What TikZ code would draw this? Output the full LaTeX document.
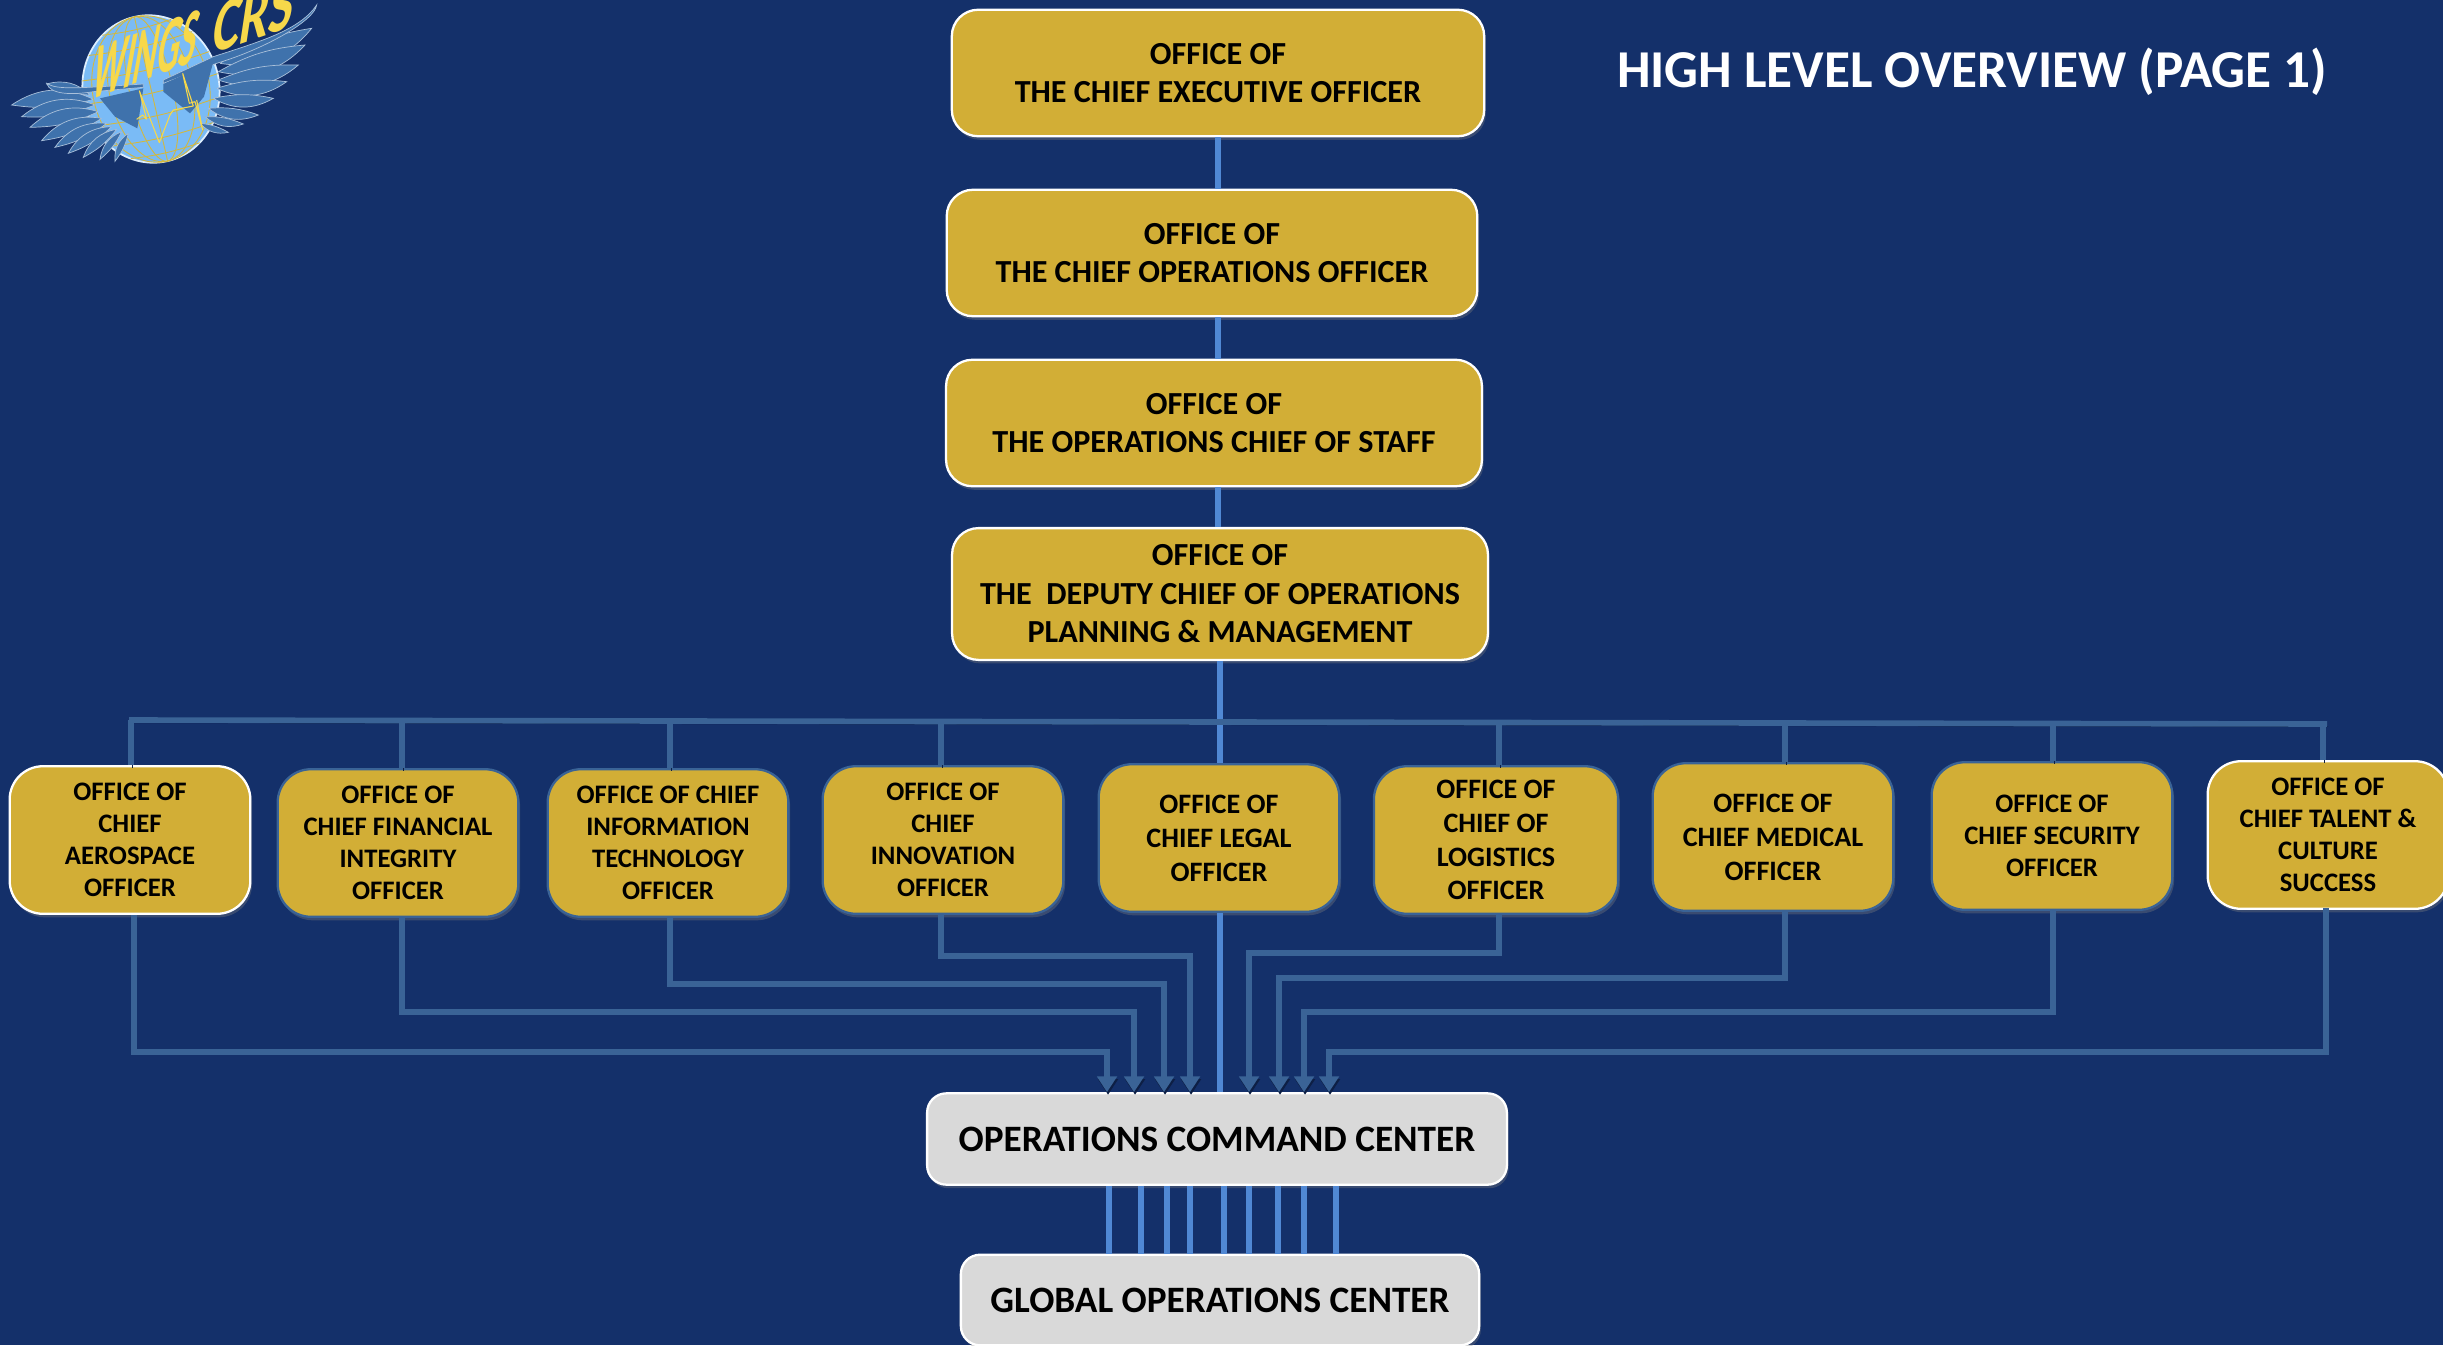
\documentclass[tikz,border=0pt]{standalone}
\usepackage{fontspec}
\setmainfont{Carlito}
\usepackage{tikz}
\usetikzlibrary{arrows.meta, shadows}

\definecolor{navy}{HTML}{14306A}
\definecolor{gold}{HTML}{D2AE36}
\definecolor{pale}{HTML}{D9D9D9}
\definecolor{trunk}{HTML}{5088D4}
\definecolor{branch}{HTML}{3A6396}
\definecolor{wing}{HTML}{3F72AC}
\definecolor{globe}{HTML}{7ABBF6}
\definecolor{logoyellow}{HTML}{F7D84A}

\newcommand{\quill}[2]{\draw[feather] (#1) to[bend left=12] (#2) to[bend left=30] (#1);}

\tikzset{
  office/.style={rounded corners=15pt,fill=gold,draw=white,line width=1.3pt,align=center,inner sep=0pt,
    font=\fontsize{18.3pt}{21.9pt}\selectfont\bfseries,text=black,
    drop shadow={shadow xshift=1pt,shadow yshift=-2pt,opacity=.35}},
  chief/.style={office,font=\fontsize{15.2pt}{18.3pt}\selectfont\bfseries,rounded corners=19pt,
    minimum width=137pt,minimum height=84pt},
  chiefbig/.style={chief,font=\fontsize{16pt}{19.3pt}\selectfont\bfseries},
  blueedge/.style={draw=branch},
  hub/.style={office,rounded corners=11pt,fill=pale,font=\fontsize{21.2pt}{25pt}\selectfont\bfseries},
  trunkline/.style={trunk,line width=3.2pt},
  busline/.style={branch,line width=3.2pt,preaction={draw=navy!65!black,transform canvas={shift={(.6pt,-1.5pt)}}}},
  feedline/.style={busline,-{Triangle[length=9pt,width=11pt]}},
  feather/.style={fill=wing,draw=white!55!wing,line width=.4pt},
  grid/.style={logoyellow!85!black,line width=.5pt}
}

\begin{document}
\begin{tikzpicture}[x=0.02cm,y=-0.02cm]
\useasboundingbox (0,0) rectangle (2443,1345);
\fill[navy] (0,0) rectangle (2443,1345);

% Upper offices
\node[office,minimum width=303pt,minimum height=72pt] (ceo) at (1218,73)
  {OFFICE OF\\THE CHIEF EXECUTIVE OFFICER};
\node[office,minimum width=302pt,minimum height=72pt] (coo) at (1212,253)
  {OFFICE OF\\THE CHIEF OPERATIONS OFFICER};
\node[office,minimum width=305pt,minimum height=72pt] (staff) at (1214,423)
  {OFFICE OF\\THE OPERATIONS CHIEF OF STAFF};
\node[office,minimum width=305pt,minimum height=75pt] (deputy) at (1220,594)
  {OFFICE OF\\THE\ \ DEPUTY CHIEF OF OPERATIONS\\PLANNING \& MANAGEMENT};

% Row of chiefs
\node[chief] (aero) at (130,840) {OFFICE OF\\CHIEF\\AEROSPACE\\OFFICER};
\node[chief,blueedge] (fin) at (398,843) {OFFICE OF\\CHIEF FINANCIAL\\INTEGRITY\\OFFICER};
\node[chief,blueedge] (info) at (668,843) {OFFICE OF CHIEF\\INFORMATION\\TECHNOLOGY\\OFFICER};
\node[chief,blueedge] (innov) at (943,840) {OFFICE OF\\CHIEF\\INNOVATION\\OFFICER};
\node[chiefbig,blueedge] (legal) at (1219,838) {OFFICE OF\\CHIEF LEGAL\\OFFICER};
\node[chiefbig,blueedge,minimum width=139pt] (logi) at (1496,840) {OFFICE OF\\CHIEF OF\\LOGISTICS\\OFFICER};
\node[chiefbig,blueedge] (med) at (1773,837) {OFFICE OF\\CHIEF MEDICAL\\OFFICER};
\node[chief,blueedge] (sec) at (2052,836) {OFFICE OF\\CHIEF SECURITY\\OFFICER};
\node[chief] (talent) at (2328,835) {OFFICE OF\\CHIEF TALENT \&\\CULTURE\\SUCCESS};

% Centers
\node[hub,minimum width=330pt,minimum height=52pt] (occ) at (1217,1139) {OPERATIONS COMMAND CENTER};
\node[hub,minimum width=295pt,minimum height=51.6pt] (goc) at (1220,1300) {GLOBAL OPERATIONS CENTER};

% Trunk
\draw[trunkline] (ceo.south) -- (ceo.south |- coo.north);
\draw[trunkline] (ceo.south |- coo.south) -- (ceo.south |- staff.north);
\draw[trunkline] (ceo.south |- staff.south) -- (ceo.south |- deputy.north);
\draw[trunkline] (deputy.south) -- (deputy.south |- legal.north);
\draw[trunkline] (deputy.south |- legal.south) -- (deputy.south |- occ.north);

% Bus
\coordinate (busl) at (129,720);
\coordinate (busr) at (2327,724);
\draw[busline] (busl) -- (busr);
\coordinate (tapaero) at (131,720);
\coordinate (tapfin) at (402,721);
\coordinate (tapinfo) at (670,721);
\coordinate (tapinnov) at (941,722);
\coordinate (taplogi) at (1499,723);
\coordinate (tapmed) at (1785,723);
\coordinate (tapsec) at (2053,724);
\coordinate (taptalent) at (2323,724);
\draw[busline] (tapaero) -- (tapaero |- aero.north);
\draw[busline] (tapfin) -- (tapfin |- fin.north);
\draw[busline] (tapinfo) -- (tapinfo |- info.north);
\draw[busline] (tapinnov) -- (tapinnov |- innov.north);
\draw[busline] (taplogi) -- (taplogi |- logi.north);
\draw[busline] (tapmed) -- (tapmed |- med.north);
\draw[busline] (tapsec) -- (tapsec |- sec.north);
\draw[busline] (taptalent) -- (taptalent |- talent.north);

% Feeds into the command center
\coordinate (bendaero) at (1107,1052);
\coordinate (bendfin) at (1134,1012);
\coordinate (bendinfo) at (1164,984);
\coordinate (bendinnov) at (1190,956);
\coordinate (bendlogi) at (1249,953);
\coordinate (bendmed) at (1279,978);
\coordinate (bendsec) at (1304,1012);
\coordinate (bendtalent) at (1329,1052);
\coordinate (startaero) at (134,915);
\coordinate (starttalent) at (2326,908);
\draw[feedline] (startaero) |- (bendaero) -- (bendaero |- occ.north);
\draw[feedline] (tapfin |- fin.south) |- (bendfin) -- (bendfin |- occ.north);
\draw[feedline] (tapinfo |- info.south) |- (bendinfo) -- (bendinfo |- occ.north);
\draw[feedline] (tapinnov |- innov.south) |- (bendinnov) -- (bendinnov |- occ.north);
\draw[feedline] (taplogi |- logi.south) |- (bendlogi) -- (bendlogi |- occ.north);
\draw[feedline] (tapmed |- med.south) |- (bendmed) -- (bendmed |- occ.north);
\draw[feedline] (tapsec |- sec.south) |- (bendsec) -- (bendsec |- occ.north);
\draw[feedline] (starttalent) |- (bendtalent) -- (bendtalent |- occ.north);

% Lanes to the global center
\coordinate (lanea) at (1109,1220);
\coordinate (laneb) at (1141,1220);
\coordinate (lanec) at (1167,1220);
\coordinate (laned) at (1190,1220);
\coordinate (lanee) at (1224,1220);
\coordinate (lanef) at (1249,1220);
\coordinate (laneg) at (1278,1220);
\coordinate (laneh) at (1304,1220);
\coordinate (lanei) at (1336,1220);
\draw[trunkline] (lanea |- occ.south) -- (lanea |- goc.north);
\draw[trunkline] (laneb |- occ.south) -- (laneb |- goc.north);
\draw[trunkline] (lanec |- occ.south) -- (lanec |- goc.north);
\draw[trunkline] (laned |- occ.south) -- (laned |- goc.north);
\draw[trunkline] (lanee |- occ.south) -- (lanee |- goc.north);
\draw[trunkline] (lanef |- occ.south) -- (lanef |- goc.north);
\draw[trunkline] (laneg |- occ.south) -- (laneg |- goc.north);
\draw[trunkline] (laneh |- occ.south) -- (laneh |- goc.north);
\draw[trunkline] (lanei |- occ.south) -- (lanei |- goc.north);

% Title
\node[text=white,font=\fontsize{30.3pt}{36pt}\selectfont\bfseries] (title) at (1972,72) {HIGH LEVEL OVERVIEW (PAGE 1)};

% Logo globe
\begin{scope}[shift={(151,89)},rotate=13,scale=1/3]
\draw[fill=globe,draw=white!75!globe,line width=1pt] (0,0) ellipse [x radius=205,y radius=222];
\draw[grid] (0,-222) -- (0,222);
\draw[grid] (0,0) ellipse [x radius=65,y radius=222];
\draw[grid] (0,0) ellipse [x radius=125,y radius=222];
\draw[grid] (0,0) ellipse [x radius=175,y radius=222];
\draw[grid] (-205,0) to[bend right=6] (205,0);
\draw[grid] (-195,-70) to[bend right=6] (195,-70);
\draw[grid] (-195,70) to[bend right=6] (195,70);
\draw[grid] (-159,-140) to[bend right=6] (159,-140);
\draw[grid] (-159,140) to[bend right=6] (159,140);
\draw[grid] (-106,-190) to[bend right=6] (106,-190);
\draw[grid] (-106,190) to[bend right=6] (106,190);
\end{scope}

% Logo wings
\begin{scope}[scale=1/3]
\quill{660,190}{935,85}
\quill{655,215}{915,135}
\quill{655,240}{895,195}
\quill{650,265}{860,245}
\quill{640,295}{820,295}
\quill{625,325}{775,345}
\quill{615,350}{730,372}
\quill{600,370}{685,397}
\quill{270,285}{140,252}
\quill{280,298}{35,315}
\quill{285,315}{65,350}
\quill{295,335}{90,382}
\quill{305,355}{125,422}
\quill{320,370}{165,442}
\quill{335,380}{205,460}
\quill{350,388}{250,472}
\quill{365,395}{300,478}
\quill{385,400}{345,484}
\draw[feather] (490,240) -- (640,170) .. controls (780,125) and (900,90) .. (950,15) .. controls (945,60) and (800,145) .. (650,190) -- (490,250) -- cycle;
\draw[feather] (280,275) .. controls (220,285) and (150,285) .. (140,250) .. controls (170,270) and (230,265) .. (430,252) -- (430,262) -- cycle;
\fill[wing] (300,295) -- (430,265) -- (412,385) -- (345,350) -- cycle;
\fill[wing] (490,252) -- (640,185) -- (612,290) -- (570,340) -- (490,275) -- cycle;
\draw[logoyellow,line width=.6pt,line join=bevel] (410,358) -- (428,345) -- (440,358) -- (418,272) -- (478,428) -- (510,345) -- (520,330) -- (580,318) -- (548,220) -- (568,310) -- (585,305) -- (608,390) -- (590,300);
\end{scope}

% Logo lettering
\begin{scope}[shift={(89,101)},cm={.43,.159,.18,1,(0,0)}]
\node[transform shape,anchor=base west,inner sep=0pt,text=logoyellow,font=\fontsize{47pt}{47pt}\selectfont\bfseries] (logowings) at (0,0) {WINGS};
\end{scope}
\begin{scope}[shift={(210,55)},cm={.67,.23,.15,1,(0,0)}]
\node[transform shape,anchor=base west,inner sep=0pt,text=logoyellow,font=\fontsize{44pt}{44pt}\selectfont\bfseries] (logocrs) at (0,0) {CRS};
\end{scope}

\end{tikzpicture}
\end{document}
